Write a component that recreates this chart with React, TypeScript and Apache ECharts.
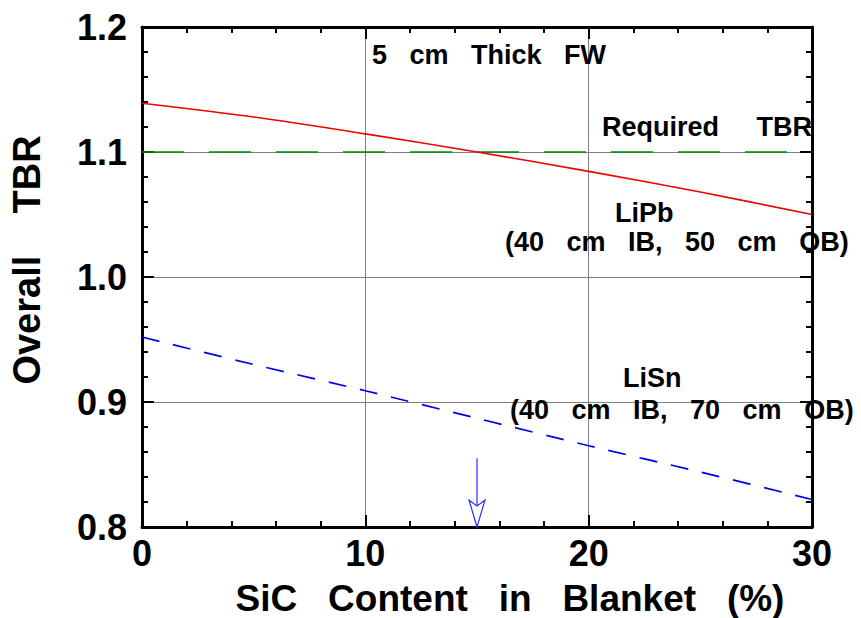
import React, { useEffect, useRef } from "react";
import * as echarts from "echarts";

// ---- data ----
const sicContent = [0, 5, 10, 15, 20, 25, 30];
const tbrLiPb = [1.139, 1.128, 1.1145, 1.1, 1.0845, 1.068, 1.05];
const tbrLiSn = [0.952, 0.93, 0.909, 0.887, 0.865, 0.844, 0.822];
const requiredX = [0, 30];
const requiredTBR = [1.1, 1.1];
// arrow marker: x, from y, to y
const arrowMarker = [[15, 0.855, 0.8]];

const xTitle = "SiC   Content   in   Blanket   (%)";
const yTitle = "Overall    TBR";
const notes = [
  { text: "5   cm   Thick   FW", x: 372, y: 55 },
  { text: "Required     TBR", x: 602, y: 127 },
  { text: "LiPb", x: 615, y: 213 },
  { text: "(40   cm   IB,   50   cm   OB)", x: 505, y: 242 },
  { text: "LiSn", x: 623, y: 378 },
  { text: "(40   cm   IB,   70   cm   OB)", x: 510, y: 410 },
];

const FONT = '"Liberation Sans", Arial, Helvetica, sans-serif';

export default function App() {
  const ref = useRef<HTMLDivElement>(null);
  useEffect(() => {
    if (!ref.current) return;
    const chart = echarts.init(ref.current, null, { renderer: "svg" });
    const axisLine = { show: true, onZero: false, lineStyle: { color: "#000", width: 3 } };
    const axisTick = { show: true, inside: true, length: 12, lineStyle: { color: "#000", width: 2 } };
    const minorTick = { show: true, splitNumber: 5, length: 6, lineStyle: { color: "#000", width: 2 } };
    const labelStyle = { fontSize: 36, fontWeight: "bold", color: "#000", fontFamily: FONT };
    const split = { show: true, lineStyle: { color: "#808080", width: 1 } };

    const option: any = {
      animation: false,
      backgroundColor: "#fff",
      grid: { left: 142, right: 49, top: 27, bottom: 91, containLabel: false },
      xAxis: [
        {
          type: "value", min: 0, max: 30, interval: 10, position: "bottom",
          axisLine, axisTick, minorTick, splitLine: split,
          axisLabel: { ...labelStyle, margin: 8 },
        },
        {
          type: "value", min: 0, max: 30, interval: 10, position: "top",
          axisLine, axisTick, minorTick, splitLine: { show: false },
          axisLabel: { show: false },
        },
      ],
      yAxis: [
        {
          type: "value", min: 0.8, max: 1.2, interval: 0.1, position: "left",
          axisLine, axisTick, minorTick, splitLine: split,
          axisLabel: { ...labelStyle, margin: 15, formatter: (v: number) => v.toFixed(1) },
        },
        {
          type: "value", min: 0.8, max: 1.2, interval: 0.1, position: "right",
          axisLine, axisTick, minorTick, splitLine: { show: false },
          axisLabel: { show: false },
        },
      ],
      series: [
        {
          name: "Required TBR", type: "line", xAxisIndex: 0, yAxisIndex: 0,
          data: requiredX.map((x, i) => [x, requiredTBR[i]]),
          symbol: "none",
          lineStyle: { color: "#008a00", width: 1.5, type: [42, 25] },
        },
        {
          name: "LiPb", type: "line", xAxisIndex: 0, yAxisIndex: 0,
          data: sicContent.map((x, i) => [x, tbrLiPb[i]]),
          symbol: "none", smooth: 0.3,
          lineStyle: { color: "#ee0000", width: 1.6 },
        },
        {
          name: "LiSn", type: "line", xAxisIndex: 0, yAxisIndex: 0,
          data: sicContent.map((x, i) => [x, tbrLiSn[i]]),
          symbol: "none", smooth: 0.3,
          lineStyle: { color: "#0000ee", width: 1.7, type: [18, 14] },
        },
        {
          name: "arrow", type: "custom", xAxisIndex: 0, yAxisIndex: 0, clip: false,
          data: arrowMarker,
          encode: { x: 0, y: [1, 2] },
          renderItem: (params: any, api: any) => {
            const top = api.coord([api.value(0), api.value(1)]);
            const tip = api.coord([api.value(0), api.value(2)]);
            const h = 27, w = 8, notch = 21;
            return {
              type: "group",
              children: [
                {
                  type: "line",
                  shape: { x1: top[0], y1: top[1], x2: tip[0], y2: tip[1] - notch },
                  style: { stroke: "#2a2aff", lineWidth: 1.2 },
                },
                {
                  type: "polygon",
                  shape: {
                    points: [
                      [tip[0], tip[1]],
                      [tip[0] - w, tip[1] - h],
                      [tip[0], tip[1] - notch],
                      [tip[0] + w, tip[1] - h],
                    ],
                  },
                  style: { fill: "#fff", stroke: "#2a2aff", lineWidth: 1.2 },
                },
              ],
            };
          },
        },
      ],
      graphic: [
        ...notes.map((n) => ({
          type: "text", x: n.x, y: n.y, z: 100,
          style: {
            text: n.text, fontSize: 27, fontWeight: "bold", fontFamily: FONT, fill: "#000",
            align: "left", verticalAlign: "middle", textAlign: "left", textVerticalAlign: "middle",
          },
        })),
        {
          type: "text", x: 510, y: 598, z: 100,
          style: {
            text: xTitle, fontSize: 37, fontWeight: "bold", fontFamily: FONT, fill: "#000",
            align: "center", verticalAlign: "middle", textAlign: "center", textVerticalAlign: "middle",
          },
        },
        {
          type: "text", x: 27, y: 260, rotation: Math.PI / 2, z: 100,
          style: {
            text: yTitle, fontSize: 38, fontWeight: "bold", fontFamily: FONT, fill: "#000",
            align: "center", verticalAlign: "middle", textAlign: "center", textVerticalAlign: "middle",
          },
        },
      ],
    };
    chart.setOption(option);
    return () => chart.dispose();
  }, []);
  return <div ref={ref} style={{ width: 861, height: 618, position: "absolute", left: 0, top: 0 }} />;
}
